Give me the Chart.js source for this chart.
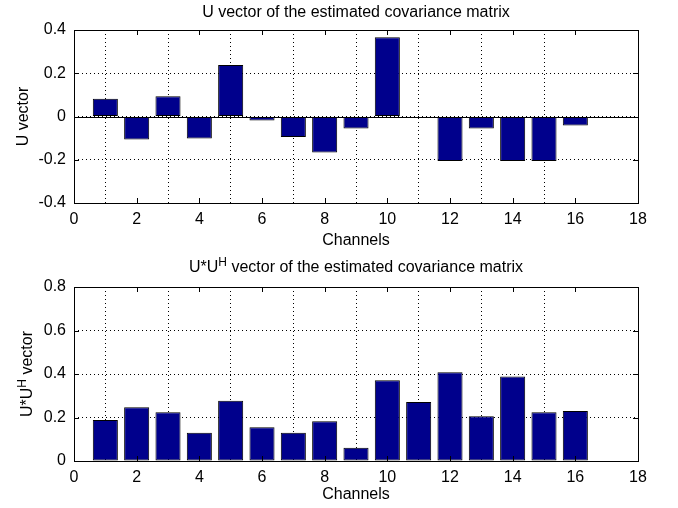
<!DOCTYPE html>
<html>
<head>
<meta charset="utf-8">
<script src="https://cdn.jsdelivr.net/npm/chart.js@4.4.1/dist/chart.umd.min.js"></script>
<style>
  body { margin: 0; background: #fff; }
  #wrap { position: relative; width: 678px; height: 508px; }
  canvas { position: absolute; left: 0; }
</style>
</head>
<body>
<div id="wrap">
  <canvas id="topChart" width="678" height="254" style="top:0"></canvas>
  <canvas id="botChart" width="678" height="254" style="top:254px"></canvas>
</div>
<script>
// channel numbers 1..16
var channels = [1, 2, 3, 4, 5, 6, 7, 8, 9, 10, 11, 12, 13, 14, 15, 16];

// U vector (top plot)
var uVector = [0.082, -0.106, 0.094, -0.102, 0.238, -0.018, -0.095, -0.167,
  -0.055, 0.367, 0, -0.206, -0.055, -0.206, -0.206, -0.042];

// U*U^H vector (bottom plot)
var uuhVector = [0.188, 0.247, 0.224, 0.130, 0.277, 0.155, 0.130, 0.183,
  0.061, 0.371, 0.271, 0.408, 0.206, 0.389, 0.224, 0.230];

var xTicks = [0, 2, 4, 6, 8, 10, 12, 14, 16, 18];
var topYTicks = [-0.4, -0.2, 0, 0.2, 0.4];
var botYTicks = [0, 0.2, 0.4, 0.6, 0.8];

var FONT = '"Liberation Sans", Arial, Helvetica, sans-serif';
var barColor = 'rgb(0,0,140)';

// draws text with a raised "H" part, used for U*U^H
function drawParts(ctx, parts, x, y, align) {
  var total = 0;
  parts.forEach(function(p) {
    ctx.font = p.size + 'px ' + FONT;
    p.w = ctx.measureText(p.t).width;
    total += p.w;
  });
  var cx = align === 'center' ? x - total / 2 : x;
  parts.forEach(function(p) {
    ctx.font = p.size + 'px ' + FONT;
    ctx.fillText(p.t, cx, y - (p.rise || 0));
    cx += p.w;
  });
}

function matlabFrame(opts) {
  return {
    id: 'matlabFrame',
    afterDatasetsDraw: function(chart) {
      var ctx = chart.ctx, a = chart.chartArea;
      var xs = chart.scales.x, ys = chart.scales.y;
      ctx.save();
      ctx.strokeStyle = '#000';
      ctx.lineWidth = 1;
      // baseline at y = 0
      if (opts.baseline) {
        var y0 = Math.round(ys.getPixelForValue(0)) + 0.5;
        ctx.beginPath();
        ctx.moveTo(a.left, y0);
        ctx.lineTo(a.right, y0);
        ctx.stroke();
      }
      // box
      ctx.strokeRect(Math.round(a.left) + 0.5, Math.round(a.top) + 0.5,
        Math.round(a.right - a.left), Math.round(a.bottom - a.top));
      // inward tick marks
      ctx.beginPath();
      xTicks.forEach(function(v) {
        var px = Math.round(xs.getPixelForValue(v)) + 0.5;
        ctx.moveTo(px, a.bottom); ctx.lineTo(px, a.bottom - 5);
        ctx.moveTo(px, a.top); ctx.lineTo(px, a.top + 5);
      });
      opts.yTicks.forEach(function(v) {
        var py = Math.round(ys.getPixelForValue(v)) + 0.5;
        ctx.moveTo(a.left, py); ctx.lineTo(a.left + 5, py);
        ctx.moveTo(a.right, py); ctx.lineTo(a.right - 5, py);
      });
      ctx.stroke();
      ctx.restore();
    },
    afterDraw: function(chart) {
      var ctx = chart.ctx, a = chart.chartArea;
      ctx.save();
      ctx.fillStyle = '#000';
      ctx.textBaseline = 'alphabetic';
      ctx.textAlign = 'left';
      drawParts(ctx, opts.title, (a.left + a.right) / 2, opts.titleY, 'center');
      ctx.translate(opts.yTitleX, (a.top + a.bottom) / 2);
      ctx.rotate(-Math.PI / 2);
      drawParts(ctx, opts.yTitle, 0, 0, 'center');
      ctx.restore();
    }
  };
}

function gridColor(min, max) {
  return function(c) {
    if (c.tick && (Math.abs(c.tick.value - min) < 1e-9 || Math.abs(c.tick.value - max) < 1e-9)) return 'rgba(0,0,0,0)';
    return '#000';
  };
}

function makeChart(id, values, yMin, yMax, yTicks, padTop, xHeight, frameOpts) {
  var ctx = document.getElementById(id).getContext('2d');
  return new Chart(ctx, {
    type: 'bar',
    data: {
      labels: channels,
      datasets: [{
        data: values,
        backgroundColor: barColor,
        borderColor: '#000',
        borderWidth: 1,
        borderSkipped: false,
        categoryPercentage: 1.0,
        barPercentage: 0.8
      }]
    },
    options: {
      responsive: false,
      animation: false,
      layout: { padding: { top: padTop, right: 40, left: 0, bottom: 0 } },
      plugins: { legend: { display: false }, tooltip: { enabled: false } },
      scales: {
        x: {
          type: 'linear',
          min: 0, max: 18,
          offset: false,
          afterBuildTicks: function(s) { s.ticks = xTicks.map(function(v) { return { value: v }; }); },
          afterFit: function(s) { s.height = xHeight; },
          grid: { color: gridColor(0, 18), drawTicks: false, lineWidth: 1 },
          border: { display: false, dash: [1, 3] },
          ticks: { font: { size: 16, family: FONT }, color: '#000', padding: 7, maxRotation: 0 },
          title: { display: true, text: 'Channels', font: { size: 16, family: FONT }, color: '#000', padding: { top: 2, bottom: 4 } }
        },
        y: {
          min: yMin, max: yMax,
          afterBuildTicks: function(s) { s.ticks = yTicks.map(function(v) { return { value: v }; }); },
          afterFit: function(s) { s.width = 74; },
          grid: { color: gridColor(yMin, yMax), drawTicks: false, lineWidth: 1 },
          border: { display: false, dash: [1, 3] },
          ticks: {
            font: { size: 16, family: FONT }, color: '#000', padding: 8,
            callback: function(v) { return Math.abs(v) < 1e-9 ? '0' : String(Math.round(v * 10) / 10); }
          }
        }
      }
    },
    plugins: [matlabFrame(frameOpts)]
  });
}

makeChart('topChart', uVector, -0.4, 0.4, topYTicks, 30, 51, {
  baseline: true,
  yTicks: topYTicks,
  titleY: 17,
  yTitleX: 28,
  title: [{ t: 'U vector of the estimated covariance matrix', size: 16 }],
  yTitle: [{ t: 'U vector', size: 16 }]
});

makeChart('botChart', uuhVector, 0, 0.8, botYTicks, 33, 47, {
  baseline: false,
  yTicks: botYTicks,
  titleY: 18,
  yTitleX: 32,
  title: [{ t: 'U*U', size: 16 }, { t: 'H', size: 12, rise: 6 }, { t: ' vector of the estimated covariance matrix', size: 16 }],
  yTitle: [{ t: 'U*U', size: 16 }, { t: 'H', size: 12, rise: 6 }, { t: ' vector', size: 16 }]
});
</script>
</body>
</html>
